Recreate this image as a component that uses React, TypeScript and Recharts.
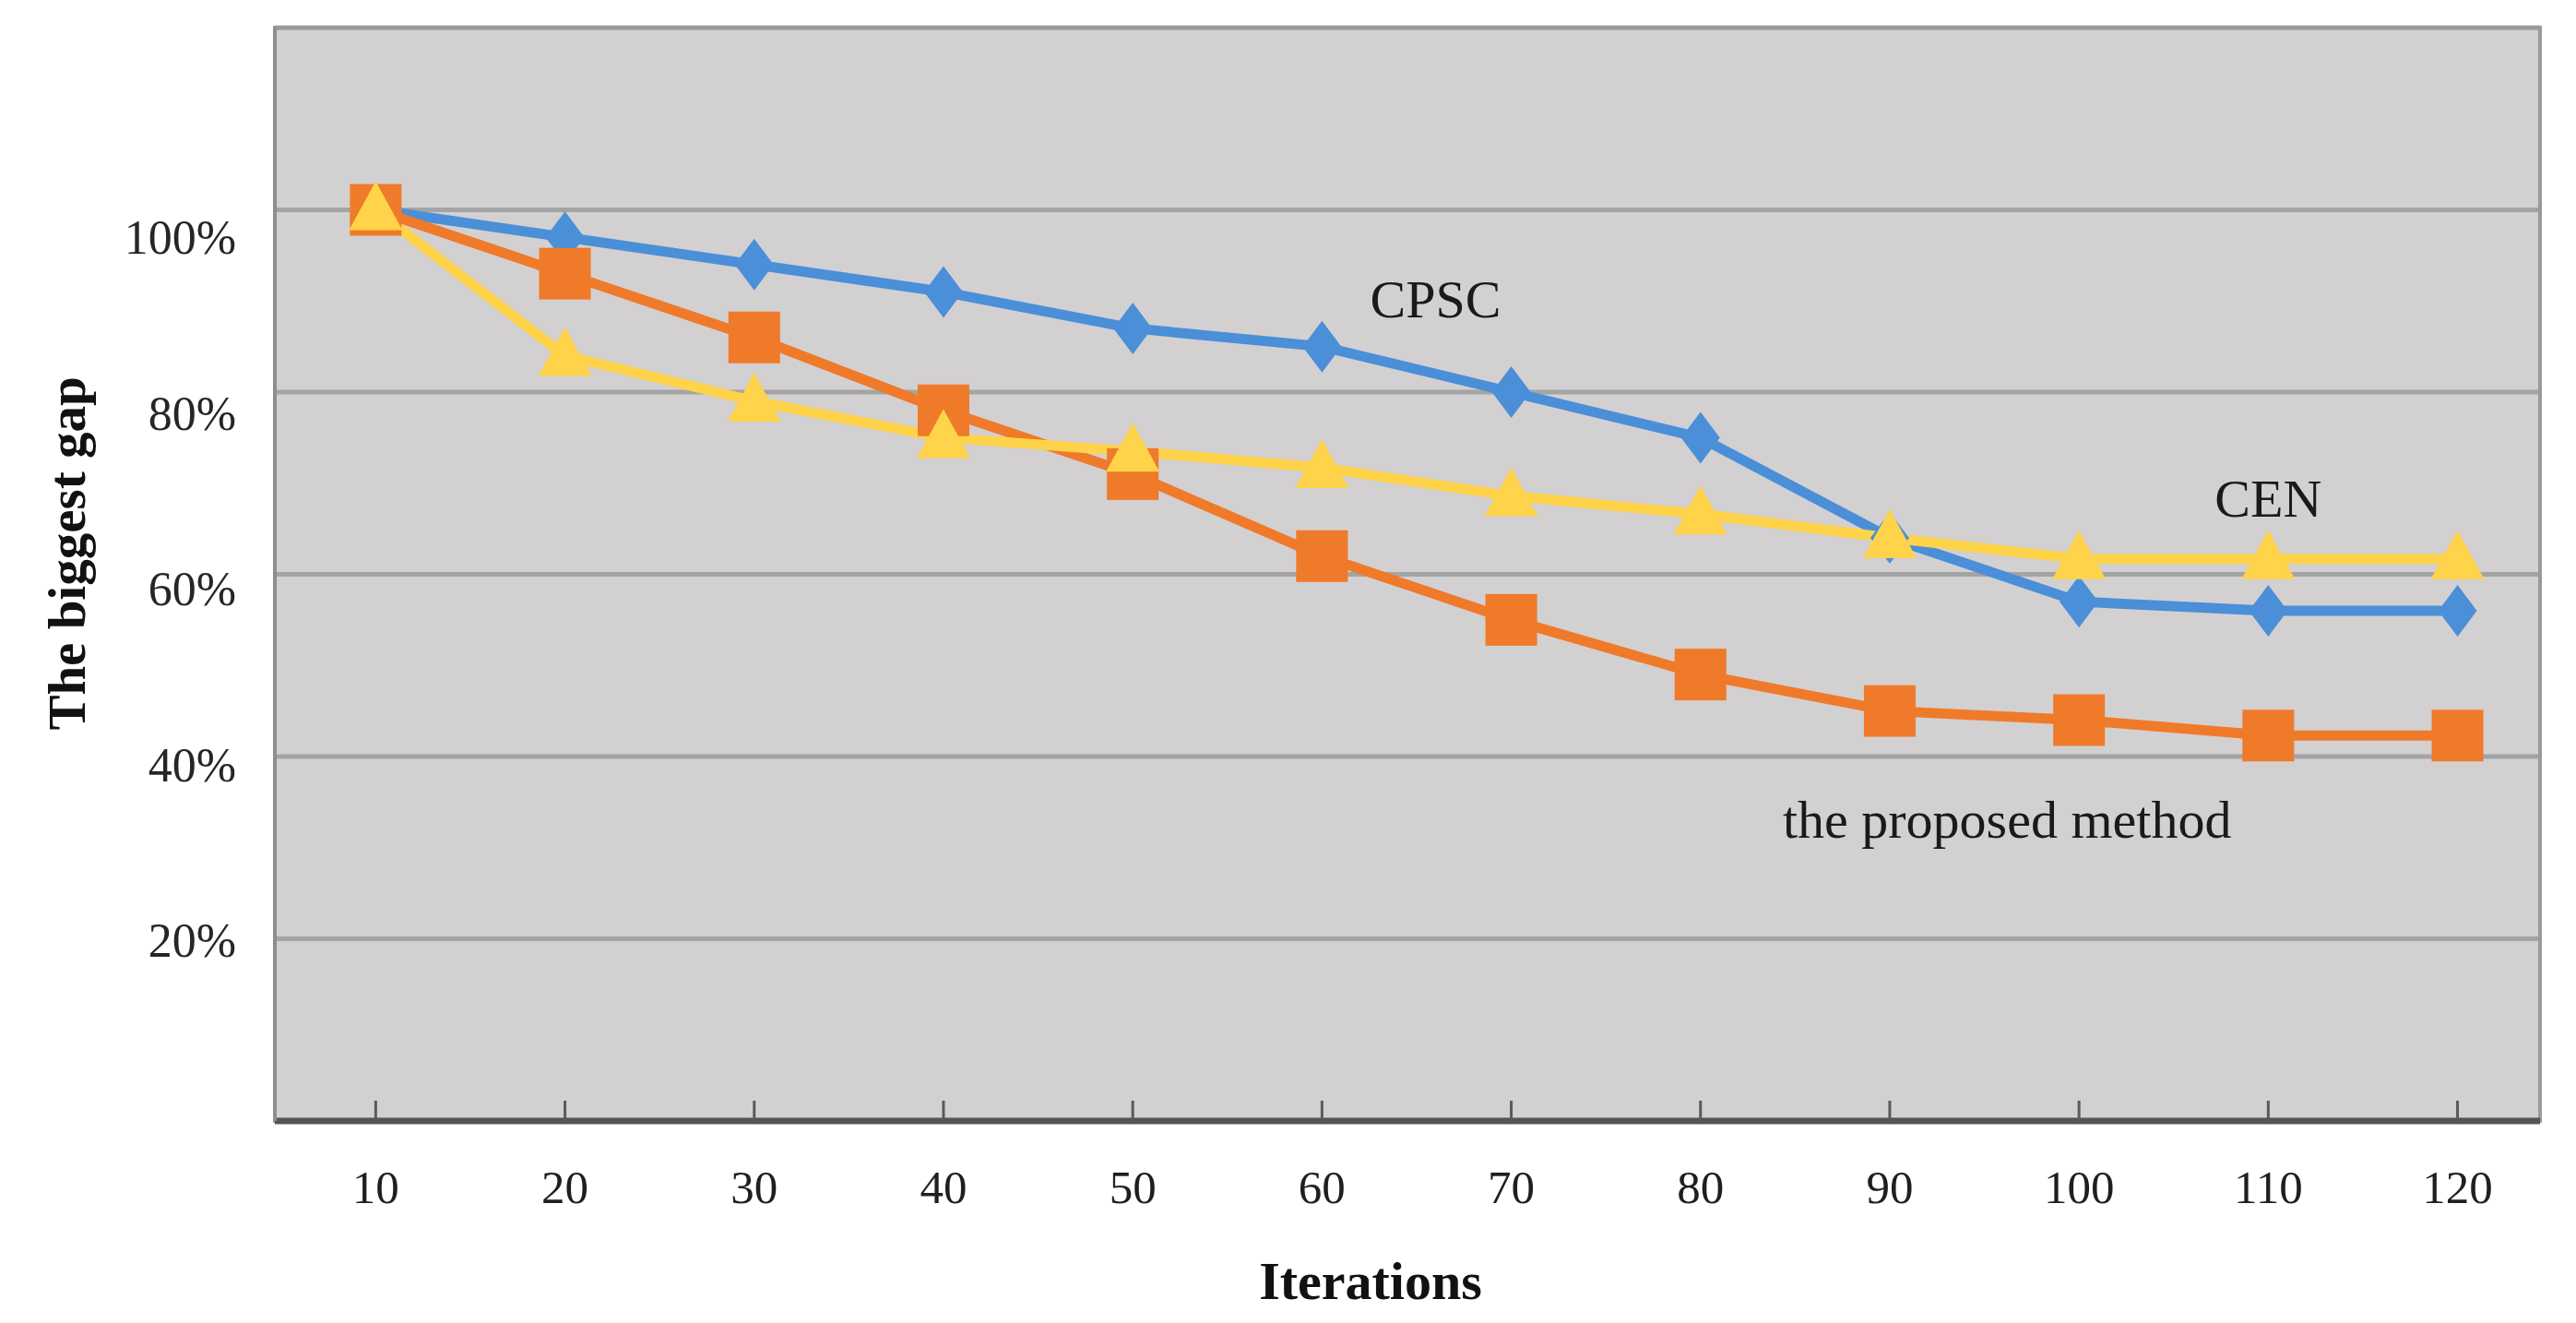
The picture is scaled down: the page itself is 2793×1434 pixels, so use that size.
import React from "react"
import {
  LineChart,
  Line,
  XAxis,
  YAxis,
  CartesianGrid,
  ReferenceArea,
  ReferenceDot,
  Label,
} from "recharts"

const iterations = [10, 20, 30, 40, 50, 60, 70, 80, 90, 100, 110, 120]
const cpsc = [100, 97, 94, 91, 87, 85, 80, 75, 64, 57, 56, 56]
const proposed = [100, 93, 86, 78, 71, 62, 55, 49, 45, 44, 42.3, 42.3]
const cen = [100, 84, 79, 75, 73.5, 71.7, 68.6, 66.6, 64, 61.7, 61.7, 61.7]
const yTicks = [20, 40, 60, 80, 100]

const data = iterations.map((it, i) => ({
  iter: it,
  cpsc: cpsc[i],
  proposed: proposed[i],
  cen: cen[i],
}))

const FONT = "'Liberation Serif', 'Times New Roman', serif"
const BLUE = "#4a8fd8"
const ORANGE = "#ef7a2a"
const YELLOW = "#ffd34a"

const Diamond = (props: any) => {
  const { cx, cy } = props
  if (cx == null || cy == null) return null
  return (
    <polygon
      points={`${cx},${cy - 28} ${cx + 21},${cy} ${cx},${cy + 28} ${cx - 21},${cy}`}
      fill={BLUE}
    />
  )
}

const Square = (props: any) => {
  const { cx, cy } = props
  if (cx == null || cy == null) return null
  return <rect x={cx - 28} y={cy - 28} width={56} height={56} fill={ORANGE} />
}

const Triangle = (props: any) => {
  const { cx, cy } = props
  if (cx == null || cy == null) return null
  return (
    <polygon
      points={`${cx},${cy - 31} ${cx + 29},${cy + 22} ${cx - 29},${cy + 22}`}
      fill={YELLOW}
    />
  )
}

const YTick = (props: any) => {
  const { x, y, payload } = props
  const off = 2 + (payload.value - 20) * 0.35
  return (
    <text
      x={x}
      y={y + off}
      textAnchor="end"
      dominantBaseline="central"
      fontFamily={FONT}
      fontSize={52}
      fill="#262626"
    >
      {payload.value}%
    </text>
  )
}

const XTick = (props: any) => {
  const { x, y, payload } = props
  return (
    <g>
      <line x1={x} y1={y - 22} x2={x} y2={y} stroke="#5a5a5a" strokeWidth={3} />
      <text
        x={x}
        y={y + 72}
        textAnchor="middle"
        dominantBaseline="central"
        fontFamily={FONT}
        fontSize={51}
        fill="#1f1f1f"
      >
        {payload.value}
      </text>
    </g>
  )
}

const notes = [
  { text: "CPSC", x: 66.0, y: 90.3 },
  { text: "CEN", x: 110.0, y: 68.4 },
  { text: "the proposed method", x: 96.2, y: 33.2 },
]

export default function App() {
  return (
    <LineChart
      width={2780}
      height={1420}
      data={data}
      margin={{ top: 22, right: 34, left: 0, bottom: 0 }}
    >
      <CartesianGrid
        vertical={false}
        fill="#d3d0d1"
        fillOpacity={1}
        stroke="#a4a4a4"
        strokeWidth={5}
      />
      <ReferenceArea
        x1={4.67}
        x2={124.36}
        y1={0}
        y2={120}
        fill="none"
        stroke="#9a9a9a"
        strokeWidth={4}
        ifOverflow="visible"
      />
      <XAxis
        dataKey="iter"
        type="number"
        domain={[4.67, 124.36]}
        ticks={iterations}
        allowDataOverflow
        height={213}
        tickSize={0}
        tickMargin={0}
        tickLine={false}
        axisLine={{ stroke: "#555555", strokeWidth: 7 }}
        tick={<XTick />}
        interval={0}
      >
        <Label
          value="Iterations"
          position="insideBottom"
          offset={20}
          dx={-40}
          fontFamily={FONT}
          fontSize={58}
          fontWeight="bold"
          fill="#111"
        />
      </XAxis>
      <YAxis
        type="number"
        domain={[0, 120]}
        ticks={yTicks}
        width={290}
        tickSize={0}
        tickMargin={42}
        tickLine={false}
        axisLine={{ stroke: "#8e8e8e", strokeWidth: 4 }}
        tick={<YTick />}
        interval={0}
      >
        <Label
          content={() => (
            <text
              x={64}
              y={592}
              transform="rotate(-90 64 592)"
              textAnchor="middle"
              dominantBaseline="central"
              fontFamily={FONT}
              fontSize={57}
              fontWeight="bold"
              fill="#111"
            >
              The biggest gap
            </text>
          )}
        />
      </YAxis>
      <Line
        dataKey="cpsc"
        stroke={BLUE}
        strokeWidth={11}
        dot={<Diamond />}
        activeDot={false}
        isAnimationActive={false}
      />
      <Line
        dataKey="proposed"
        stroke={ORANGE}
        strokeWidth={11}
        dot={<Square />}
        activeDot={false}
        isAnimationActive={false}
      />
      <Line
        dataKey="cen"
        stroke={YELLOW}
        strokeWidth={11}
        dot={<Triangle />}
        activeDot={false}
        isAnimationActive={false}
      />
      {notes.map((n) => (
        <ReferenceDot
          key={n.text}
          x={n.x}
          y={n.y}
          r={0}
          fill="none"
          stroke="none"
          ifOverflow="visible"
        >
          <Label
            value={n.text}
            position="center"
            fontFamily={FONT}
            fontSize={58}
            fill="#1a1a1a"
          />
        </ReferenceDot>
      ))}
    </LineChart>
  )
}
